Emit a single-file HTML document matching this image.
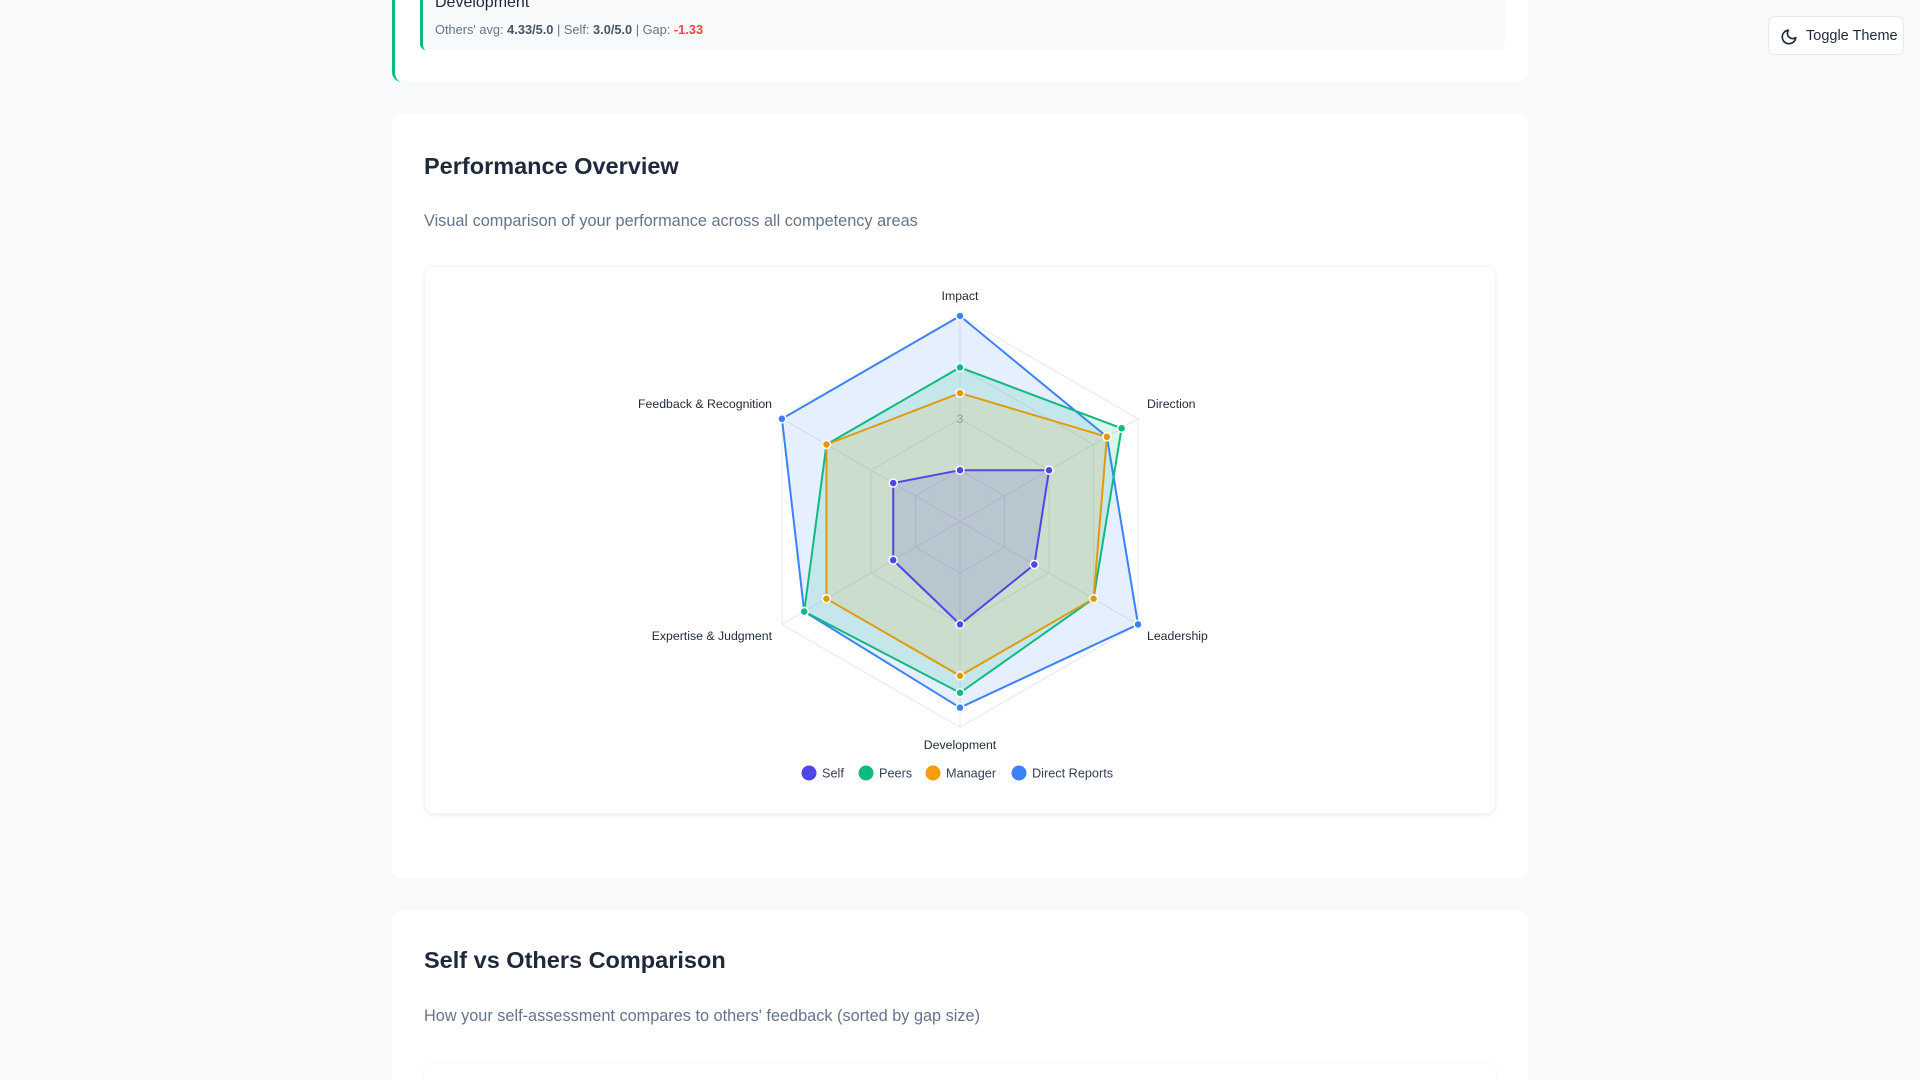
<!DOCTYPE html>
<html><head><meta charset="utf-8"><style>
*{box-sizing:border-box;margin:0;padding:0}
html,body{width:1920px;height:1080px;overflow:hidden}
body{background:#f8f9fb;font-family:"Liberation Sans",sans-serif;color:#1e293b;position:relative}
.card{position:absolute;left:392px;width:1136px;background:#fff;border-radius:10px}
.btn{position:absolute;left:1768px;top:16px;width:136px;height:39px;border:1.5px solid #e2e8f0;border-radius:7px;background:#fff;font-size:14.5px;color:#1e293b;white-space:nowrap;line-height:39px;padding-left:37px}
h2{position:absolute;left:32px;font-size:23.5px;font-weight:bold;color:#1e293b}
.sub{position:absolute;left:32px;font-size:16.3px;color:#64748b}
</style></head><body>
<div class="card" style="top:-10px;height:92px;border-left:3px solid #10b981;border-radius:0 10px 10px 10px">
 <div style="position:absolute;left:25px;top:0;width:1085px;height:60px;background:#f8f9fb;border-left:3px solid #10b981;border-radius:0 0 6px 6px">
  <div style="position:absolute;left:12px;top:4px;font-size:16px;color:#1e293b">Development</div>
  <div style="position:absolute;left:12px;top:32px;font-size:12.8px;color:#64748b">Others' avg: <b style="color:#475569">4.33/5.0</b> | Self: <b style="color:#475569">3.0/5.0</b> | Gap: <b style="color:#ef4444">-1.33</b></div>
 </div>
</div>
<div class="btn"><svg style="position:absolute;left:11px;top:11px" width="18" height="18" viewBox="0 0 24 24" fill="none" stroke="#1e293b" stroke-width="2.2" stroke-linecap="round" stroke-linejoin="round"><path d="M21 12.79A9 9 0 1 1 11.21 3 7 7 0 0 0 21 12.79z"/></svg>Toggle Theme</div>
<div class="card" style="top:114px;height:764px">
 <h2 style="top:39px">Performance Overview</h2>
 <div class="sub" style="top:98px">Visual comparison of your performance across all competency areas</div>
 <div style="position:absolute;left:32px;top:152px;width:1072px;height:548px;border-radius:10px;box-shadow:0 1px 4px rgba(0,0,0,0.08);border:1px solid #f1f5f9"></div>
</div>
<div class="card" style="top:910px;height:170px;border-radius:10px 10px 0 0">
 <h2 style="top:37px">Self vs Others Comparison</h2>
 <div class="sub" style="top:97px">How your self-assessment compares to others' feedback (sorted by gap size)</div>
 <div style="position:absolute;left:32px;top:153px;width:1072px;height:60px;border-radius:10px;box-shadow:0 1px 4px rgba(0,0,0,0.08)"></div>
</div>
<svg id="ch" style="position:absolute;left:0;top:0" width="1920" height="1080"></svg>
<script>
var cx=960,cy=521.6,u=51.4;
var ang=[-90,-30,30,90,150,210].map(a=>a*Math.PI/180);
function pt(v,i){var r=(v-1)*u;return [cx+r*Math.cos(ang[i]),cy+r*Math.sin(ang[i])];}
var s='';
for(var k=2;k<=5;k++){s+='<polygon points="'+ang.map((a,i)=>pt(k,i).join(',')).join(' ')+'" fill="none" stroke="#e5e7eb" stroke-width="1"/>';}
ang.forEach((a,i)=>{var p=pt(5,i);s+='<line x1="'+cx+'" y1="'+cy+'" x2="'+p[0]+'" y2="'+p[1]+'" stroke="#e5e7eb"/>';});
s+='<text x="960" y="423" font-size="12" fill="#94a3b8" text-anchor="middle" font-family="Liberation Sans">3</text>';
var ds=[
['#3b82f6','rgba(59,130,246,0.13)',[5,4.3,5,4.62,4.5,5]],
['#10b981','rgba(16,185,129,0.15)',[4,4.63,4,4.33,4.5,4]],
['#e09b0d','rgba(245,158,11,0.13)',[3.5,4.3,4,4,4,4]],
['#4f46e5','rgba(79,70,229,0.15)',[2,3,2.67,3,2.5,2.5]]];
ds.forEach(d=>{var pts=d[2].map((v,i)=>pt(v,i));
s+='<polygon points="'+pts.map(p=>p.join(',')).join(' ')+'" fill="'+d[1]+'" stroke="'+d[0]+'" stroke-width="2"/>';});
ds.forEach(d=>{d[2].forEach((v,i)=>{var p=pt(v,i);s+='<circle cx="'+p[0]+'" cy="'+p[1]+'" r="4" fill="'+d[0]+'" stroke="#fff" stroke-width="1.5"/>';});});
var L=[['Impact',960,300,'middle'],['Direction',1147,408,'start'],['Leadership',1147,640,'start'],['Development',960,749,'middle'],['Expertise & Judgment',772,640,'end'],['Feedback & Recognition',772,408,'end']];
L.forEach(l=>{s+='<text x="'+l[1]+'" y="'+l[2]+'" font-size="12.3" fill="#1e293b" text-anchor="'+l[3]+'" font-family="Liberation Sans">'+l[0].replace('&','&amp;')+'</text>';});
var G=[['Self','#4f46e5',809],['Peers','#10b981',866],['Manager','#f59e0b',933],['Direct Reports','#3b82f6',1019]];
G.forEach(g=>{s+='<circle cx="'+g[2]+'" cy="773" r="7.5" fill="'+g[1]+'"/><text x="'+(g[2]+13)+'" y="777.5" font-size="12.7" fill="#334155" font-family="Liberation Sans">'+g[0]+'</text>';});
document.getElementById('ch').innerHTML=s;
</script>
</body></html>
